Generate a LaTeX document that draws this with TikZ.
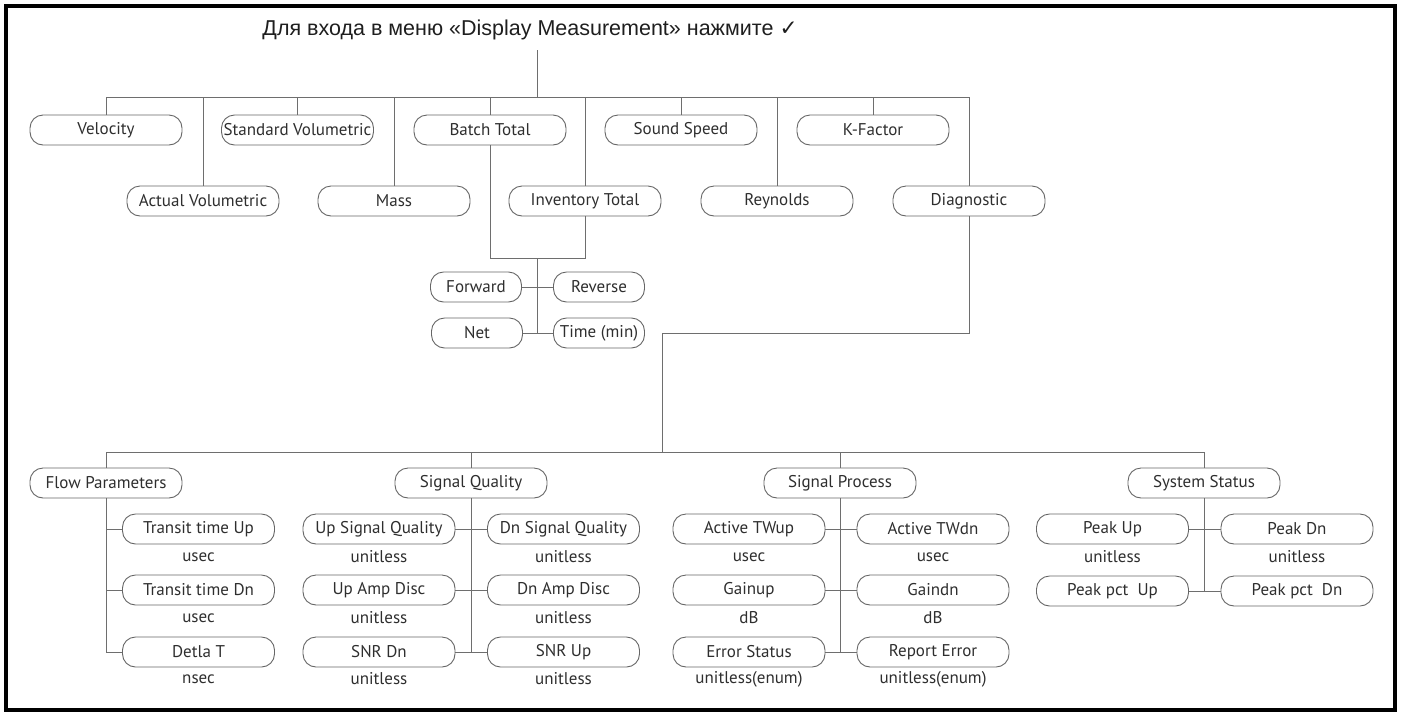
\documentclass[tikz,border=0pt]{standalone}
\usepackage{fontspec}
\setmainfont{Liberation Sans}
\newfontfamily\boxfont{PT Sans}
\newfontfamily\symfont{DejaVu Sans}
\definecolor{wire}{HTML}{6E6E6E}
\definecolor{boxline}{HTML}{666666}
\definecolor{boxtext}{HTML}{2E2E2E}
\definecolor{titletext}{HTML}{1E1E1E}
\begin{document}
\begin{tikzpicture}[x=1pt,y=-1pt,
  box/.style={draw=boxline, line width=0.9pt, rounded corners=13pt,
    minimum width=152pt, minimum height=30pt, inner sep=0pt,
    font={\boxfont\fontsize{17}{20}\selectfont}, text=boxtext},
  smallbox/.style={box, minimum width=91pt},
  unitlbl/.style={inner sep=0pt, font={\boxfont\fontsize{17}{20}\selectfont}, text=boxtext},
  link/.style={draw=wire, line width=1pt},
  frameline/.style={draw=black, line width=3.5pt}]
\useasboundingbox (0,0) rectangle (1401,713);
\draw[frameline] (6,6) rectangle (1395,710);

% heading
\node[inner sep=0pt, font={\fontsize{21.5}{25}\selectfont}, text=titletext] (title) at (530,30)
  {Для входа в меню «Display Measurement» нажмите {\symfont ✓}};
\coordinate (tstem) at (537,50);
\coordinate (busTop) at (537,97);

% first level, upper row
\node[box] (vel)   at (106,130)   {Velocity};
\node[box] (stdv)  at (297.5,130) {Standard Volumetric};
\node[box] (batch) at (490,130)   {Batch Total};
\node[box] (sound) at (681,130)   {Sound Speed};
\node[box] (kf)    at (873,130)   {K-Factor};
% first level, lower row
\node[box] (actv)  at (203,201)   {Actual Volumetric};
\node[box] (mass)  at (394,201)   {Mass};
\node[box] (inv)   at (585,201)   {Inventory Total};
\node[box] (reyn)  at (777,201)   {Reynolds};
\node[box] (diag)  at (969,201)   {Diagnostic};

\draw[link] (tstem) -- (busTop);
\draw[link] (vel.north |- busTop) -- (diag.north |- busTop);
\foreach \n in {vel,stdv,batch,sound,kf,actv,mass,inv,reyn,diag}
  \draw[link] (\n.north |- busTop) -- (\n.north);

% totals
\coordinate (tj) at (537,258);
\node[smallbox] (fwd)  at (476,287) {Forward};
\node[smallbox] (rev)  at (599,287) {Reverse};
\node[smallbox] (net)  at (477,333) {Net};
\node[smallbox] (tmin) at (599,333) {Time (min)};
\draw[link] (batch.south) -- (batch.south |- tj) -- (inv.south |- tj) -- (inv.south);
\draw[link] (tj) -- (tj |- net.east);
\draw[link] (fwd.east) -- (rev.west);
\draw[link] (net.east) -- (tmin.west);

% diagnostic branch
\coordinate (dk) at (662,333);
\coordinate (busBot) at (662,452);
\draw[link] (diag.south) -- (diag.south |- dk) -- (dk) -- (busBot);

% second level
\node[box] (fp) at (106,483)  {Flow Parameters};
\node[box] (sq) at (471,483)  {Signal Quality};
\node[box] (sp) at (840,483)  {Signal Process};
\node[box] (ss) at (1204,483) {System Status};
\draw[link] (fp.north |- busBot) -- (ss.north |- busBot);
\foreach \n in {fp,sq,sp,ss}
  \draw[link] (\n.north |- busBot) -- (\n.north);

% flow parameters
\node[box] (ttu) at (198.5,529) {Transit time Up};
\node[box] (ttd) at (198.5,590) {Transit time Dn};
\node[box] (dt)  at (198.5,652) {Detla T};
\node[unitlbl] (ttuU) at (198.5,557) {usec};
\node[unitlbl] (ttdU) at (198.5,618) {usec};
\node[unitlbl] (dtU)  at (198.5,679) {nsec};
\draw[link] (fp.south) -- (fp.south |- dt.west) -- (dt.west);
\draw[link] (fp.south |- ttu.west) -- (ttu.west);
\draw[link] (fp.south |- ttd.west) -- (ttd.west);

% signal quality
\node[box] (usq) at (379,529)   {Up Signal Quality};
\node[box] (dsq) at (563.5,529) {Dn Signal Quality};
\node[box] (uad) at (379,590)   {Up Amp Disc};
\node[box] (dad) at (563.5,590) {Dn Amp Disc};
\node[box] (snd) at (379,652)   {SNR Dn};
\node[box] (snu) at (563.5,652) {SNR Up};
\node[unitlbl] (usqU) at (379,557)   {unitless};
\node[unitlbl] (dsqU) at (563.5,557) {unitless};
\node[unitlbl] (uadU) at (379,618)   {unitless};
\node[unitlbl] (dadU) at (563.5,618) {unitless};
\node[unitlbl] (sndU) at (379,679)   {unitless};
\node[unitlbl] (snuU) at (563.5,679) {unitless};
\draw[link] (sq.south) -- (sq.south |- snd.east);
\draw[link] (usq.east) -- (dsq.west);
\draw[link] (uad.east) -- (dad.west);
\draw[link] (snd.east) -- (snu.west);

% signal process
\node[box] (atu) at (749,529) {Active TWup};
\node[box] (atd) at (933,529) {Active TWdn};
\node[box] (gu)  at (749,590) {Gainup};
\node[box] (gd)  at (933,590) {Gaindn};
\node[box] (es)  at (749,652) {Error Status};
\node[box] (re)  at (933,652) {Report Error};
\node[unitlbl] (atuU) at (749,557) {usec};
\node[unitlbl] (atdU) at (933,557) {usec};
\node[unitlbl] (guU)  at (749,618) {dB};
\node[unitlbl] (gdU)  at (933,618) {dB};
\node[unitlbl] (esU)  at (749,679) {unitless(enum)};
\node[unitlbl] (reU)  at (933,679) {unitless(enum)};
\draw[link] (sp.south) -- (sp.south |- es.east);
\draw[link] (atu.east) -- (atd.west);
\draw[link] (gu.east) -- (gd.west);
\draw[link] (es.east) -- (re.west);

% system status
\node[box] (pu)  at (1112.5,529) {Peak Up};
\node[box] (pd)  at (1297,529)   {Peak Dn};
\node[box] (ppu) at (1112.5,591) {Peak pct\ \ Up};
\node[box] (ppd) at (1297,591)   {Peak pct\ \ Dn};
\node[unitlbl] (puU) at (1112.5,557) {unitless};
\node[unitlbl] (pdU) at (1297,557)   {unitless};
\draw[link] (ss.south) -- (ss.south |- ppu.east);
\draw[link] (pu.east) -- (pd.west);
\draw[link] (ppu.east) -- (ppd.west);
\end{tikzpicture}
\end{document}
